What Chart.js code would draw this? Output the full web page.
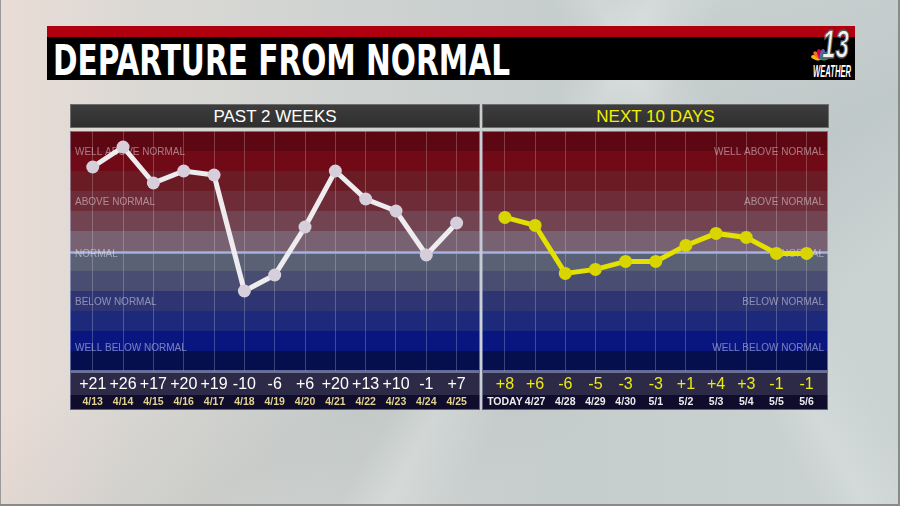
<!DOCTYPE html>
<html>
<head>
<meta charset="utf-8">
<script src="https://cdn.jsdelivr.net/npm/chart.js@4.4.1/dist/chart.umd.min.js"></script>
<style>
  body {
    margin: 0; width: 900px; height: 506px; overflow: hidden; position: relative;
    font-family: "Liberation Sans", Arial, sans-serif;
    background:
      linear-gradient(118deg, transparent 52%, rgba(255,255,255,0.22) 56%, transparent 62%),
      linear-gradient(62deg, transparent 70%, rgba(255,255,255,0.18) 74%, transparent 80%),
      linear-gradient(150deg, transparent 40%, rgba(120,135,135,0.12) 60%, transparent 75%),
      linear-gradient(90deg, #eadcd5 0%, #dcd9d5 14%, #cfd3d1 38%, #c6cdcd 62%, #cad2d2 100%);
    box-shadow: inset -2px -2px 0 #8a8a8a, inset 1px 0 0 #9a9a9a;
  }
  .abs { position: absolute; }
  .ph {
    position: absolute; height: 24px; line-height: 25px; text-align: center;
    background: linear-gradient(#3e3e3e, #2e2e2e); box-shadow: inset 0 0 0 1px #6e6e6e;
    font-size: 17px;
  }
</style>
</head>
<body>
<div class="abs" style="left:47px;top:26px;width:808px;height:11px;background:#b0000f"></div>
<div class="abs" style="left:47px;top:37px;width:808px;height:43px;background:#000"></div>
<div id="title" class="abs" style="left:53px;top:39px;font:bold 43px/43px 'Liberation Sans Narrow','DejaVu Sans Condensed',sans-serif;color:#fff;white-space:nowrap;transform-origin:0 0">DEPARTURE FROM NORMAL</div>
<svg class="abs" style="left:806px;top:22px;overflow:visible" width="50" height="58">
  <g transform="translate(15,37)">
    <ellipse rx="2.3" ry="5.2" cy="-5" fill="#fcb711" transform="rotate(-75)"/>
    <ellipse rx="2.3" ry="5.2" cy="-5" fill="#f37021" transform="rotate(-45)"/>
    <ellipse rx="2.3" ry="5.2" cy="-5" fill="#cc004c" transform="rotate(-15)"/>
    <ellipse rx="2.3" ry="5.2" cy="-5" fill="#6460aa" transform="rotate(15)"/>
    <ellipse rx="2.3" ry="5.2" cy="-5" fill="#0089d0" transform="rotate(45)"/>
    <ellipse rx="2.3" ry="5.2" cy="-5" fill="#0db14b" transform="rotate(75)"/>
  </g>
  <text x="16" y="36" textLength="27" lengthAdjust="spacingAndGlyphs" font-family="Liberation Sans" font-weight="bold" font-style="italic" font-size="40" fill="#f2f2f2" stroke="#555" stroke-width="1.3">13</text>
  <text x="7" y="55" textLength="38" lengthAdjust="spacingAndGlyphs" font-family="Liberation Sans" font-weight="bold" font-style="italic" font-size="17" fill="#fff">WEATHER</text>
</svg>

<div class="ph" style="left:70px;top:104px;width:410px;color:#fff">PAST 2 WEEKS</div>
<div class="ph" style="left:482px;top:104px;width:347px;color:#f2f000">NEXT 10 DAYS</div>

<canvas id="past" class="abs" width="410" height="279" style="left:70px;top:131px"></canvas>
<canvas id="next" class="abs" width="346" height="279" style="left:482px;top:131px"></canvas>

<script>
// past two weeks
const pastDates = ['4/13', '4/14', '4/15', '4/16', '4/17', '4/18', '4/19', '4/20', '4/21', '4/22', '4/23', '4/24', '4/25'];
const pastValues = [21, 26, 17, 20, 19, -10, -6, 6, 20, 13, 10, -1, 7];

// next ten days
const nextDates = ['TODAY', '4/27', '4/28', '4/29', '4/30', '5/1', '5/2', '5/3', '5/4', '5/5', '5/6'];
const nextValues = [8, 6, -6, -5, -3, -3, 1, 4, 3, -1, -1];

// background bands, top (warm) to bottom (cold)
const bandColors = ['#5d0713', '#700a17', '#6b1b24', '#6d2c37', '#724452', '#786170',
                    '#5a6175', '#4a4d72', '#2f3573', '#1d2a7b', '#09167f', '#060f4d'];
const bandLabels = ['WELL ABOVE NORMAL', 'ABOVE NORMAL', 'NORMAL', 'BELOW NORMAL', 'WELL BELOW NORMAL'];
const bandLabelPos = [0.09, 0.295, 0.512, 0.712, 0.905]; // fraction of plot height

const fmt = v => (v > 0 ? '+' + v : String(v));

const backdrop = {
    id: 'backdrop',
    beforeDraw(chart) {
        const { ctx, chartArea: a } = chart;
        const h = (a.bottom - a.top) / bandColors.length;
        ctx.save();
        bandColors.forEach((c, i) => {
            ctx.fillStyle = c;
            ctx.fillRect(a.left, a.top + i * h, a.right - a.left, h + 0.5);
        });
        const vs = chart.scales.x, ds = chart.scales.dates;
        ctx.fillStyle = '#2d2a47';
        ctx.fillRect(vs.left, vs.top + 1, vs.width, vs.height - 1);
        ctx.fillStyle = '#0f0d2b';
        ctx.fillRect(ds.left, ds.top, ds.width, ds.height);
        ctx.strokeStyle = 'rgba(190,195,235,0.45)';
        ctx.lineWidth = 1;
        ctx.strokeRect(vs.left + 0.5, vs.top + 1.5, vs.width - 1, vs.height + ds.height - 2);
        ctx.restore();
    },
    beforeDatasetsDraw(chart, args, opts) {
        const { ctx, chartArea: a } = chart;
        const h = a.bottom - a.top;
        ctx.save();
        // normal line
        const ny = a.top + h / 2 + 1.5;
        ctx.strokeStyle = '#a6b2e2';
        ctx.lineWidth = 2.5;
        ctx.beginPath();
        ctx.moveTo(a.left, ny);
        ctx.lineTo(a.right, ny);
        ctx.stroke();
        // band labels
        ctx.font = '10px "Liberation Sans", Arial, sans-serif';
        ctx.fillStyle = 'rgba(255,255,255,0.45)';
        ctx.textBaseline = 'middle';
        ctx.textAlign = opts.align;
        const lx = opts.align === 'left' ? a.left + 5 : a.right - 4;
        bandLabels.forEach((t, i) => ctx.fillText(t, lx, a.top + h * bandLabelPos[i]));
        // frame
        ctx.strokeStyle = 'rgba(190,200,240,0.5)';
        ctx.lineWidth = 1;
        ctx.strokeRect(a.left + 0.5, a.top + 0.5, a.right - a.left - 1, h - 1);
        ctx.restore();
    }
};

function makeChart(id, dates, values, cfg) {
    const xRange = { type: 'linear', min: cfg.xMin, max: cfg.xMax };
    const setTicks = s => { s.ticks = values.map((_, i) => ({ value: i })); };
    new Chart(document.getElementById(id), {
        type: 'line',
        data: {
            datasets: [{
                data: values.map((v, i) => ({ x: i, y: v })),
                borderColor: cfg.line,
                borderWidth: 5,
                pointRadius: 6.5,
                pointBackgroundColor: cfg.point,
                pointBorderWidth: 0,
                tension: 0
            }]
        },
        options: {
            responsive: false,
            animation: false,
            layout: { padding: 0, autoPadding: false },
            plugins: {
                legend: { display: false },
                tooltip: { enabled: false },
                backdrop: { align: cfg.labelAlign }
            },
            scales: {
                y: { display: false, min: cfg.yMin, max: cfg.yMax },
                x: {
                    ...xRange, position: 'bottom', weight: 1,
                    afterBuildTicks: setTicks,
                    afterFit: s => { s.height = 24; },
                    grid: { color: 'rgba(255,255,255,0.22)', drawTicks: false },
                    border: { display: false },
                    ticks: {
                        color: cfg.valueColor, padding: 4, autoSkip: false, maxRotation: 0,
                        font: { size: 16, family: '"Liberation Sans", Arial, sans-serif' },
                        callback: v => fmt(values[v])
                    }
                },
                dates: {
                    ...xRange, position: 'bottom', weight: 2,
                    afterBuildTicks: setTicks,
                    afterFit: s => { s.height = 15; },
                    grid: { display: false, drawTicks: false },
                    border: { display: false },
                    ticks: {
                        color: cfg.dateColor, padding: 1, autoSkip: false, maxRotation: 0,
                        font: { size: 10.5, weight: 'bold', family: '"Liberation Sans", Arial, sans-serif' },
                        callback: v => dates[v]
                    }
                }
            }
        },
        plugins: [backdrop]
    });
}

makeChart('past', pastDates, pastValues, {
    xMin: -0.75, xMax: 12.77, yMin: -30, yMax: 30,
    line: '#efecf0', point: '#d6cfdb', valueColor: '#ffffff', dateColor: '#e2d28c', labelAlign: 'left'
});
makeChart('next', nextDates, nextValues, {
    xMin: -0.76, xMax: 10.71, yMin: -30.4, yMax: 29.6,
    line: '#e4e000', point: '#d9d500', valueColor: '#ecea10', dateColor: '#ececec', labelAlign: 'right'
});

// squeeze the title to the width used on air
const title = document.getElementById('title');
title.style.transform = 'scaleX(' + (457 / title.getBoundingClientRect().width) + ')';
</script>
</body>
</html>
